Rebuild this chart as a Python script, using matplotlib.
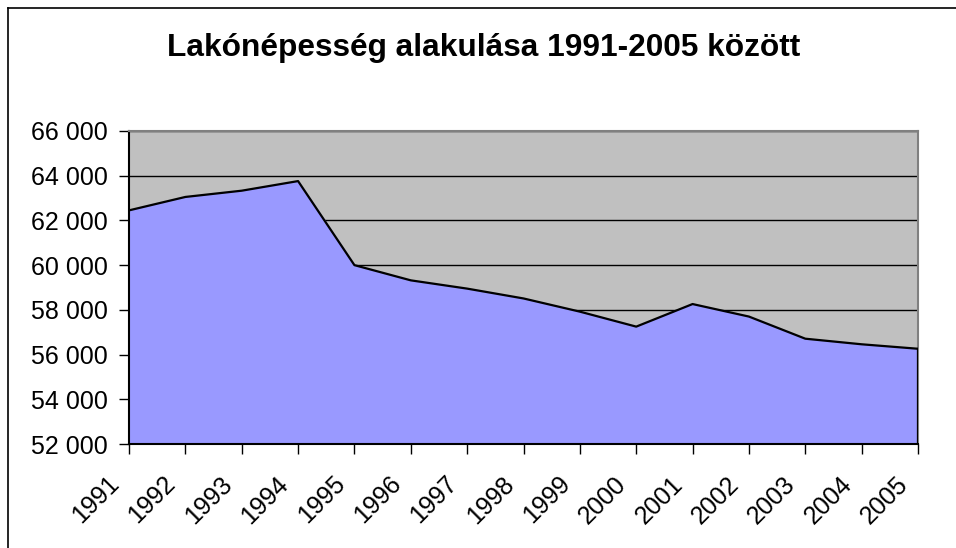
import matplotlib.pyplot as plt
from matplotlib.lines import Line2D
from matplotlib.ticker import FuncFormatter
from matplotlib.transforms import ScaledTranslation

plt.rcParams['font.family'] = ['Liberation Sans', 'DejaVu Sans']

evek = ["1991", "1992", "1993", "1994", "1995", "1996", "1997", "1998",
        "1999", "2000", "2001", "2002", "2003", "2004", "2005"]
lakosok = [62450, 63050, 63330, 63760, 60000, 59320, 58950, 58510,
           57920, 57250, 58260, 57700, 56710, 56460, 56260]

fig = plt.figure(figsize=(9.56, 5.48), dpi=100)
ax = fig.add_axes([129 / 956, 1 - 444 / 548, 789 / 956, 313 / 548])

x = list(range(len(evek)))
ax.set_facecolor("#C0C0C0")
ax.fill_between(x, 52000, lakosok, color="#9999FF", zorder=2)
ax.plot(x, lakosok, color="black", lw=1.6, zorder=3)
ax.plot([x[-1], x[-1]], [52000, lakosok[-1]], color="black", lw=1.6, zorder=3)

ax.set_xlim(0, len(evek) - 1)
ax.set_ylim(52000, 66000)
ax.set_yticks(range(52000, 66001, 2000))
ax.yaxis.set_major_formatter(FuncFormatter(lambda v, p: f"{int(v):,}".replace(",", " ")))
ax.grid(axis="y", color="black", lw=1, zorder=1)
ax.set_axisbelow(True)

ax.set_xticks(x)
ax.set_xticklabels(evek, rotation=45, ha="right", va="top")
ax.tick_params(axis="both", direction="out", length=7, width=1, colors="black")
ax.tick_params(axis="x", pad=13, labelsize=18)
ax.tick_params(axis="y", pad=8, labelsize=18)
eltolas = ScaledTranslation(-0.05, 0, fig.dpi_scale_trans)
for lbl in ax.get_xticklabels():
    lbl.set_transform(lbl.get_transform() + eltolas)

for s in ["top", "right"]:
    ax.spines[s].set_color("#808080")
    ax.spines[s].set_linewidth(1.5)
for s in ["left", "bottom"]:
    ax.spines[s].set_color("black")
    ax.spines[s].set_linewidth(1.5)

fig.text(484 / 956, 1 - 48 / 548, "Lakónépesség alakulása 1991-2005 között",
         ha="center", va="center", fontsize=22.8, fontweight="bold")

# keret
fig.add_artist(Line2D([8 / 956, 1], [1 - 8 / 548, 1 - 8 / 548], color="black", lw=1.2))
fig.add_artist(Line2D([8 / 956, 8 / 956], [0, 1 - 8 / 548], color="black", lw=1.2))

plt.savefig("out.png", dpi=100)
